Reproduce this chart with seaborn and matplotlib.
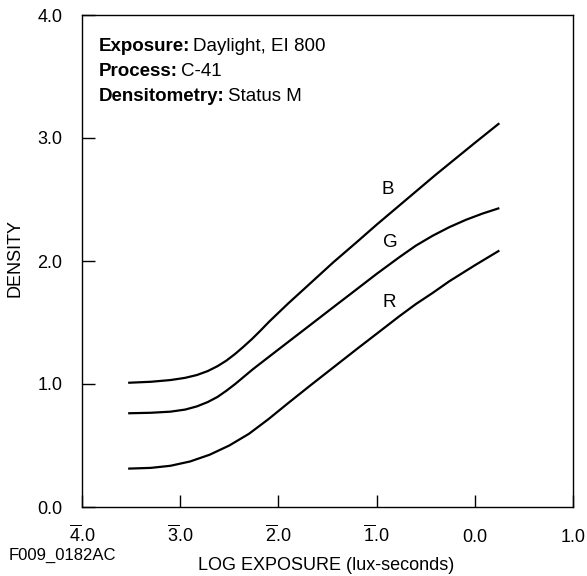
import matplotlib
matplotlib.use("Agg")
import matplotlib.pyplot as plt
import seaborn as sns
import pandas as pd

# ---- data ----
logE_B = [-3.53, -3.30, -3.10, -2.95, -2.83, -2.72, -2.62, -2.53, -2.44, -2.36, -2.27, -2.19,
          -2.09, -1.90, -1.68, -1.44, -1.20, -1.00, -0.80, -0.60, -0.40, -0.20, 0.00, 0.25]
dens_B = [1.010, 1.018, 1.032, 1.050, 1.073, 1.105, 1.145, 1.19, 1.245, 1.30, 1.365, 1.428,
          1.51, 1.655, 1.815, 1.99, 2.155, 2.295, 2.43, 2.565, 2.70, 2.83, 2.96, 3.12]

logE_G = [-3.53, -3.30, -3.10, -2.95, -2.83, -2.72, -2.62, -2.53, -2.44, -2.35, -2.26,
          -2.09, -1.90, -1.68, -1.44, -1.27, -1.00, -0.77, -0.60, -0.43, -0.26, -0.09, 0.08, 0.25]
dens_G = [0.762, 0.766, 0.775, 0.792, 0.818, 0.853, 0.895, 0.945, 1.00, 1.06, 1.12,
          1.225, 1.342, 1.477, 1.625, 1.729, 1.895, 2.03, 2.125, 2.205, 2.275, 2.335, 2.386, 2.43]

logE_R = [-3.53, -3.30, -3.10, -2.90, -2.70, -2.50, -2.30, -2.10, -1.90, -1.68, -1.48,
          -1.20, -0.94, -0.77, -0.60, -0.43, -0.26, 0.00, 0.25]
dens_R = [0.312, 0.318, 0.335, 0.37, 0.425, 0.50, 0.595, 0.715, 0.845, 0.985, 1.11,
          1.285, 1.445, 1.55, 1.65, 1.74, 1.835, 1.965, 2.085]

layers = ["B", "G", "R"]
label_x = [-0.89, -0.86, -0.87]
label_y = [2.58, 2.15, 1.66]

x_ticks = [-4, -3, -2, -1, 0, 1]
x_tick_labels = [r"$\overline{4}$.0", r"$\overline{3}$.0", r"$\overline{2}$.0",
                 r"$\overline{1}$.0", "0.0", "1.0"]
y_ticks = [0, 1, 2, 3, 4]
y_tick_labels = ["0.0", "1.0", "2.0", "3.0", "4.0"]

header_bold = ["Exposure:", "Process:", "Densitometry:"]
header_regular = ["Daylight, EI 800", "C-41", "Status M"]

df = pd.concat([
    pd.DataFrame({"logE": logE_B, "density": dens_B, "layer": "B"}),
    pd.DataFrame({"logE": logE_G, "density": dens_G, "layer": "G"}),
    pd.DataFrame({"logE": logE_R, "density": dens_R, "layer": "R"}),
], ignore_index=True)

sns.set_theme(style="white")
plt.rcParams["font.family"] = ["Liberation Sans", "DejaVu Sans"]
plt.rcParams["mathtext.default"] = "regular"

W, H = 587, 576
fig = plt.figure(figsize=(W / 100, H / 100), dpi=100)
ax = fig.add_axes([82 / W, 1 - 507 / H, (573 - 82) / W, (507 - 15) / H])

sns.lineplot(data=df, x="logE", y="density", units="layer", estimator=None,
             sort=False, color="black", linewidth=1.6, ax=ax, legend=False,
             solid_joinstyle="round", solid_capstyle="butt")

ax.set_xlim(-4, 1)
ax.set_ylim(0, 4)
ax.set_xlabel("")
ax.set_ylabel("")

for s in ax.spines.values():
    s.set_color("black")
    s.set_linewidth(1.0)
    s.set_visible(True)

ax.set_xticks(x_ticks)
ax.set_xticklabels([])
ax.set_yticks(y_ticks)
ax.set_yticklabels(y_tick_labels)
ax.tick_params(axis="both", which="major", direction="in", length=9, width=1,
               color="black", labelsize=13, labelcolor="black",
               bottom=True, left=True, top=False, right=False)
ax.tick_params(axis="y", pad=14)

xt = ax.get_xaxis_transform()
for xv, lab in zip(x_ticks, x_tick_labels):
    ax.text(xv, -0.0711, lab, transform=xt, ha="center", va="baseline",
            fontsize=13, color="black", clip_on=False)

for name, lx, ly in zip(layers, label_x, label_y):
    ax.text(lx, ly, name, ha="center", va="center", fontsize=13.5, color="black")

fs_head = 13.5
for i, (b, r) in enumerate(zip(header_bold, header_regular)):
    yb = 1 - (51 + 25 * i) / H
    tb = fig.text(99 / W, yb, b, fontsize=fs_head, fontweight="bold",
                  ha="left", va="baseline", color="black")
    ax.annotate(r, xy=(1, 0), xycoords=tb, xytext=(2, 0),
                textcoords="offset points", ha="left", va="bottom",
                fontsize=fs_head, color="black", annotation_clip=False)

fig.text(15 / W, 1 - 258 / H, "DENSITY", rotation=90, ha="center",
         va="center", fontsize=13, color="black")
fig.text(326 / W, 1 - 565 / H, "LOG EXPOSURE (lux-seconds)", ha="center",
         va="center", fontsize=13, color="black")
fig.text(9 / W, 1 - 555 / H, "F009_0182AC", ha="left", va="center",
         fontsize=12, color="black")

fig.savefig("out.png", dpi=100)
